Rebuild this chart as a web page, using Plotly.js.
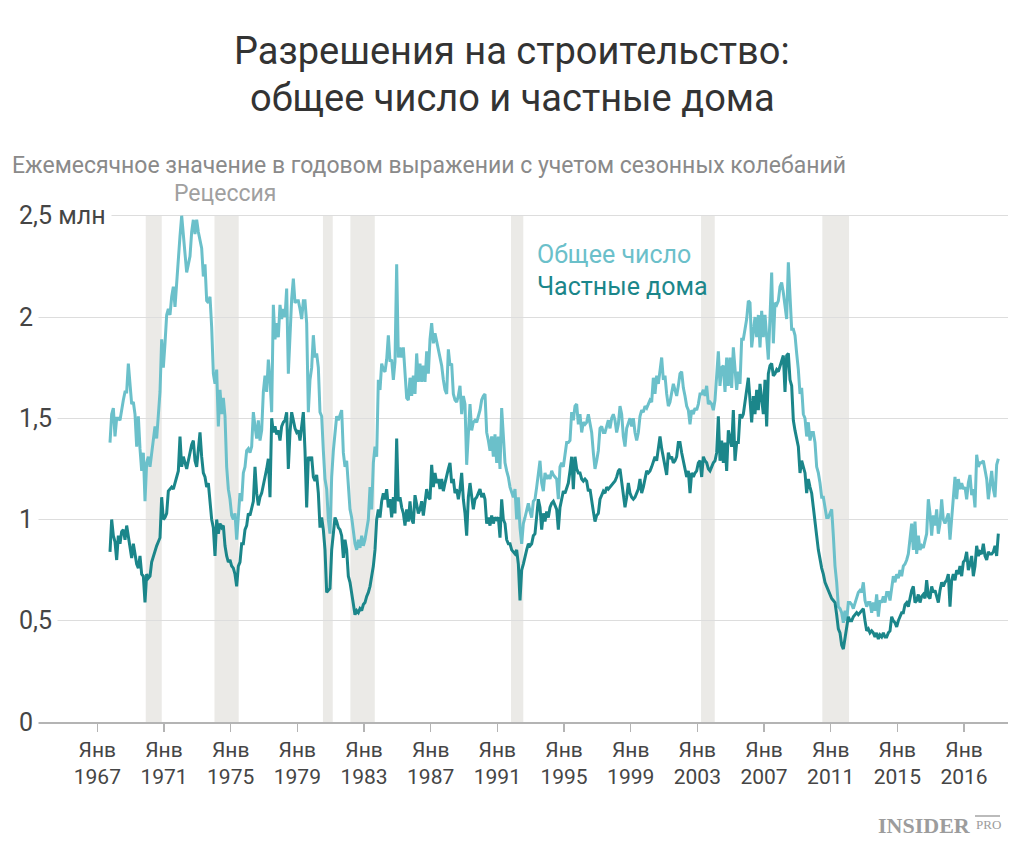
<!DOCTYPE html>
<html>
<head>
<meta charset="utf-8">
<script src="https://cdn.plot.ly/plotly-3.0.1.min.js"></script>
<style>html,body{margin:0;padding:0;background:#fff;}#chart{width:1024px;height:852px;}</style>
</head>
<body>
<div id="chart"></div>
<script>
// ---- Data, values in millions ----
// Samples are evenly spaced in time, starting at SAMPLE_START (decimal year), every SAMPLE_STEP years
const SAMPLE_START = 1967.924;
const SAMPLE_STEP = 0.09358;

const totalHomes = [
1.38,1.52,1.55,1.41,1.50,1.50,1.49,1.55,1.59,1.63,1.63,1.77,1.66,1.57,1.58,1.52,1.36,1.51,1.35,1.24,
1.33,1.09,1.28,1.31,1.26,1.32,1.40,1.46,1.40,1.52,1.63,1.89,1.75,1.87,2.01,2.04,2.01,2.10,2.15,2.05,
2.18,2.28,2.40,2.50,2.40,2.30,2.22,2.26,2.30,2.42,2.48,2.41,2.48,2.42,2.37,2.34,2.20,2.26,2.08,2.07,
2.10,1.95,1.72,1.67,1.74,1.46,1.64,1.52,1.60,1.51,1.26,1.15,1.10,1.02,1.00,1.03,0.90,1.03,1.13,1.09,
1.23,1.26,1.34,1.35,
1.33,1.36,1.53,1.46,1.40,1.49,1.39,1.44,1.63,1.71,1.63,1.79,1.69,1.53,2.06,1.89,1.97,1.90,2.06,1.99,
2.04,2.00,2.14,1.72,1.92,2.09,2.19,2.07,2.08,2.08,2.04,1.99,2.08,2.08,1.97,1.53,1.69,1.75,1.91,1.80,
1.82,1.75,1.53,1.51,1.34,1.20,1.15,1.00,0.93,1.21,1.34,1.44,1.51,1.49,1.52,1.54,1.33,1.26,1.29,1.16,
1.05,1.01,0.95,0.88,0.85,0.90,0.86,0.92,0.87,0.90,0.95,1.00,1.16,1.05,1.28,1.36,1.31,1.69,1.64,1.77,
1.74,1.73,1.79,1.91,
1.78,1.79,1.69,1.78,2.26,1.80,1.85,1.80,1.85,1.72,1.60,1.59,1.70,1.61,1.71,1.62,1.82,1.68,1.77,1.68,
1.76,1.68,1.83,1.72,1.89,1.97,1.87,1.92,1.88,1.84,1.80,1.76,1.69,1.64,1.62,1.84,1.76,1.77,1.62,1.59,
1.58,1.61,1.66,1.52,1.61,1.57,1.27,1.43,1.57,1.44,1.48,1.49,1.48,1.51,1.54,1.59,1.61,1.62,1.43,1.39,
1.34,1.41,1.31,1.42,1.28,1.41,1.25,1.55,1.38,1.28,1.24,1.21,1.16,1.13,1.11,1.15,1.00,1.11,0.96,0.88,
0.98,1.01,1.05,1.08,1.04,1.01,1.09,
1.10,1.16,1.24,1.29,1.18,1.14,1.23,1.20,1.22,1.20,1.24,1.22,1.21,1.20,1.10,1.26,1.28,1.26,1.32,1.38,
1.38,1.39,1.53,1.49,1.56,1.57,1.47,1.52,1.43,1.48,1.47,1.48,1.52,1.47,1.43,1.33,1.25,1.29,1.34,1.45,
1.46,1.43,1.43,1.46,1.49,1.45,1.50,1.52,1.49,1.43,1.47,1.56,1.52,1.41,1.36,1.45,1.48,1.50,1.46,1.50,
1.43,1.39,1.43,1.51,1.54,1.53,1.56,1.55,1.57,1.59,1.58,1.70,1.62,1.71,1.67,1.73,1.80,1.69,1.71,1.62,
1.56,1.58,1.62,1.67,1.64,1.61,1.66,
1.72,1.73,1.65,1.61,1.56,1.54,1.47,1.54,1.52,1.55,1.54,1.57,1.62,1.62,1.64,1.61,1.66,1.57,1.58,1.57,
1.54,1.59,1.69,1.83,1.66,1.75,1.76,1.63,1.80,1.66,1.80,1.65,1.85,1.72,1.64,1.73,1.67,1.89,1.89,1.94,
1.99,2.08,2.07,1.85,1.94,2.00,1.90,2.01,1.85,2.03,1.90,2.01,1.90,1.79,2.00,2.22,1.87,2.07,2.06,2.08,
2.15,2.17,2.12,2.05,1.99,2.27,2.07,1.94,1.94,1.91,1.82,1.74,1.62,1.65,1.52,1.50,1.41,1.48,1.39,1.43,
1.43,1.38,1.26,1.23,1.18,1.11,1.11,1.05,1.01,1.01,1.03,1.05,0.92,0.77,0.69,0.57,
0.56,0.54,0.49,0.55,0.50,0.59,0.59,0.58,0.56,0.59,0.62,0.64,0.65,0.64,0.69,0.60,0.57,0.59,0.59,0.54,
0.59,0.55,0.63,0.52,0.60,0.59,0.62,0.59,0.64,0.64,0.60,0.67,0.72,0.69,0.73,0.71,0.75,0.72,0.77,0.78,
0.80,0.83,0.92,0.98,0.85,0.99,0.83,0.92,0.85,0.87,0.86,0.90,0.93,1.10,1.03,0.92,1.02,0.97,1.05,0.93,
0.98,1.10,1.00,0.98,1.01,1.03,0.90,1.02,1.10,1.21,1.10,1.20,1.15,1.18,1.15,1.16,1.10,1.18,1.22,1.12,
1.15,1.06,1.32,1.26,1.28,1.28,1.29,1.25,1.20,1.10,1.16,1.24,1.15,1.11,1.27,1.30
];

const privateHomes = [
0.84,1.00,0.92,0.89,0.80,0.92,0.88,0.94,0.95,0.90,0.97,0.92,0.85,0.81,0.88,0.82,0.78,0.76,0.82,0.73,
0.72,0.59,0.73,0.71,0.72,0.79,0.82,0.84,0.87,0.89,0.91,1.11,1.00,1.01,1.03,1.14,1.15,1.16,1.15,1.18,
1.22,1.24,1.41,1.26,1.31,1.28,1.25,1.29,1.33,1.37,1.39,1.29,1.26,1.36,1.43,1.31,1.23,1.21,1.16,1.18,
1.10,1.00,0.96,0.82,1.00,0.93,0.98,0.96,0.97,0.87,0.82,0.79,0.80,0.77,0.76,0.73,0.67,0.77,0.79,0.88,
0.88,0.95,0.97,1.03,
1.02,1.06,1.09,1.26,1.13,1.07,1.11,1.13,1.18,1.21,1.25,1.30,1.11,1.50,1.43,1.46,1.42,1.44,1.39,1.46,
1.48,1.49,1.53,1.25,1.43,1.53,1.49,1.45,1.43,1.44,1.39,1.48,1.53,1.34,1.06,1.31,1.29,1.31,1.21,1.19,
1.22,1.13,0.96,1.01,0.95,0.85,0.64,0.65,0.66,0.85,0.93,1.01,0.99,0.96,0.95,0.92,0.81,0.90,0.85,0.72,
0.69,0.63,0.57,0.53,0.55,0.54,0.56,0.55,0.58,0.59,0.62,0.64,0.67,0.72,0.77,0.85,1.00,1.05,1.01,1.09,
1.13,1.10,1.15,1.06,
1.10,1.01,1.11,1.03,1.40,1.09,1.11,1.06,1.03,0.97,1.05,0.99,1.09,1.00,0.98,1.12,1.08,1.03,1.05,1.09,
1.02,1.08,1.15,1.11,1.10,1.27,1.16,1.23,1.18,1.20,1.15,1.20,1.14,1.18,1.22,1.25,1.28,1.18,1.20,1.13,
1.15,1.10,1.15,1.23,1.10,1.03,0.92,1.11,1.18,1.11,1.05,1.10,1.11,1.13,1.15,1.11,1.13,1.10,0.98,1.01,
0.97,1.02,0.98,1.01,1.00,1.01,0.91,1.10,1.00,0.98,0.90,0.88,0.88,0.85,0.84,0.83,0.85,0.78,0.60,0.75,
0.78,0.82,0.85,0.88,0.87,0.88,0.92,
0.93,1.00,1.10,1.06,0.95,1.03,0.99,1.04,1.01,1.06,1.08,1.09,1.07,1.05,0.95,1.06,1.10,1.14,1.13,1.16,
1.18,1.24,1.31,1.15,1.31,1.25,1.23,1.23,1.20,1.19,1.20,1.19,1.14,1.15,1.08,1.04,0.99,1.02,1.03,1.10,
1.12,1.14,1.13,1.16,1.15,1.16,1.17,1.18,1.19,1.21,1.24,1.25,1.18,1.13,1.06,1.11,1.18,1.13,1.11,1.10,
1.11,1.13,1.15,1.20,1.13,1.16,1.21,1.24,1.23,1.24,1.26,1.29,1.31,1.29,1.36,1.41,1.35,1.31,1.26,1.22,
1.33,1.30,1.31,1.28,1.29,1.31,1.38,
1.38,1.33,1.29,1.26,1.21,1.24,1.13,1.23,1.21,1.23,1.24,1.28,1.29,1.21,1.31,1.29,1.28,1.25,1.24,1.26,
1.28,1.29,1.33,1.51,1.29,1.39,1.28,1.38,1.24,1.44,1.39,1.36,1.54,1.29,1.38,1.38,1.52,1.50,1.52,1.57,
1.64,1.70,1.59,1.48,1.61,1.52,1.64,1.54,1.67,1.59,1.52,1.69,1.46,1.72,1.76,1.77,1.71,1.72,1.74,1.73,
1.76,1.79,1.81,1.63,1.81,1.82,1.69,1.66,1.49,1.44,1.39,1.36,1.23,1.29,1.26,1.23,1.13,1.20,1.16,1.13,
1.06,0.97,0.92,0.85,0.80,0.76,0.73,0.69,0.67,0.65,0.63,0.61,0.60,0.59,0.53,0.46,
0.44,0.38,0.36,0.41,0.47,0.52,0.50,0.50,0.52,0.53,0.54,0.53,0.54,0.55,0.56,0.50,0.45,0.46,0.44,0.45,
0.44,0.42,0.44,0.41,0.43,0.42,0.44,0.42,0.42,0.44,0.45,0.52,0.50,0.49,0.47,0.50,0.52,0.54,0.54,0.58,
0.59,0.57,0.61,0.65,0.67,0.59,0.60,0.63,0.59,0.62,0.63,0.61,0.70,0.62,0.61,0.67,0.64,0.65,0.62,0.59,
0.65,0.69,0.67,0.69,0.70,0.73,0.57,0.70,0.73,0.70,0.75,0.73,0.77,0.72,0.79,0.80,0.84,0.75,0.78,0.82,
0.72,0.77,0.87,0.82,0.84,0.83,0.88,0.82,0.80,0.84,0.83,0.83,0.84,0.87,0.82,0.93
];

// Recession periods (decimal years)
const recessionStart = [1969.93, 1973.79, 1979.88, 1981.42, 1990.44, 2001.11, 2007.92];
const recessionEnd   = [1970.83, 1975.15, 1980.43, 1982.79, 1991.13, 2001.88, 2009.42];

// Axis labels
const tickYears = ['1967','1971','1975','1979','1983','1987','1991','1995','1999','2003','2007','2011','2015','2016'];
const yTickValues = [0, 0.5, 1, 1.5, 2, 2.5];
const yTickLabels = ['0', '0,5', '1', '1,5', '2', '2,5 млн'];

const seriesNames = ['Общее число', 'Частные дома'];
const titleLines = ['Разрешения на строительство:', 'общее число и частные дома'];

// ---- Layout helpers (pixel geometry of the reference) ----
const W = 1024, H = 852;
const PL = 18, PR = 1008, PT = 200, PB = 722;
const px = x => (x - PL) / (PR - PL);
const py = y => (PB - y) / (PB - PT);
const PXPERYEAR = 17.81;
const yearAt = x => 1969.917 + (x - 145.5) / PXPERYEAR;

const times = totalHomes.map((_, i) => SAMPLE_START + i * SAMPLE_STEP);

const FONT = 'Roboto, sans-serif';
const LIGHT = '#6bc0ca';
const DARK = '#1b868a';

const traces = [
  {x: times, y: totalHomes, type: 'scatter', mode: 'lines', name: seriesNames[0],
   line: {color: LIGHT, width: 3, shape: 'linear'}, hoverinfo: 'skip'},
  {x: times.slice(0, privateHomes.length), y: privateHomes, type: 'scatter', mode: 'lines', name: seriesNames[1],
   line: {color: DARK, width: 3, shape: 'linear'}, hoverinfo: 'skip'}
];

const shapes = recessionStart.map((s, i) => ({
  type: 'rect', xref: 'x', yref: 'y', x0: s, x1: recessionEnd[i], y0: 0, y1: 2.5,
  fillcolor: '#ebeae7', line: {width: 0}, layer: 'below'
}));

// INSIDER PRO logo rule above "PRO"
shapes.push({type: 'line', xref: 'paper', yref: 'paper', x0: px(975), x1: px(1000), y0: py(816), y1: py(816),
  line: {color: '#a5a5a5', width: 1.5}});

const annotations = [];
yTickValues.forEach((v, i) => {
  annotations.push({xref: 'paper', yref: 'y', x: 0, y: v, xanchor: 'left', yanchor: 'middle',
    xshift: -5, text: yTickLabels[i], showarrow: false, bgcolor: '#ffffff', borderpad: 5,
    font: {family: FONT, size: 25, color: '#454545'}});
});
annotations.push({xref: 'paper', yref: 'paper', x: 0.5 + (512 - 513) / 990, y: py(51), xanchor: 'center', yanchor: 'middle',
  text: titleLines[0], showarrow: false, font: {family: FONT, size: 38, color: '#333333'}});
annotations.push({xref: 'paper', yref: 'paper', x: 0.5 + (512 - 513) / 990, y: py(98), xanchor: 'center', yanchor: 'middle',
  text: titleLines[1], showarrow: false, font: {family: FONT, size: 38, color: '#333333'}});
annotations.push({xref: 'paper', yref: 'paper', x: px(10), y: py(165), xanchor: 'left', yanchor: 'middle',
  text: 'Ежемесячное значение в годовом выражении с учетом сезонных колебаний', showarrow: false,
  font: {family: FONT, size: 23, color: '#8a8a8a'}});
annotations.push({xref: 'paper', yref: 'paper', x: px(172), y: py(194), xanchor: 'left', yanchor: 'middle',
  text: 'Рецессия', showarrow: false, font: {family: FONT, size: 23, color: '#a0a0a0'}});
annotations.push({xref: 'paper', yref: 'paper', x: px(535), y: py(254), xanchor: 'left', yanchor: 'middle',
  text: seriesNames[0], showarrow: false, font: {family: FONT, size: 25, color: LIGHT}});
annotations.push({xref: 'paper', yref: 'paper', x: px(535), y: py(286), xanchor: 'left', yanchor: 'middle',
  text: seriesNames[1], showarrow: false, font: {family: FONT, size: 25, color: DARK}});
annotations.push({xref: 'paper', yref: 'paper', x: px(973), y: py(825), xanchor: 'right', yanchor: 'middle',
  text: '<b>INSIDER</b>', showarrow: false, font: {family: 'Liberation Serif, serif', size: 22, color: '#9c9c9c'}});
annotations.push({xref: 'paper', yref: 'paper', x: px(988), y: py(824), xanchor: 'center', yanchor: 'middle',
  text: 'PRO', showarrow: false, font: {family: 'Liberation Serif, serif', size: 13, color: '#9c9c9c'}});

const tickvals = tickYears.map((_, k) => yearAt(97.33 + k * 66.67));
const ticktext = tickYears.map(y => 'Янв<br>' + y);

const layout = {
  width: W, height: H,
  margin: {l: PL, r: W - PR, t: PT, b: H - PB, pad: 0},
  paper_bgcolor: '#ffffff', plot_bgcolor: '#ffffff',
  showlegend: false,
  xaxis: {range: [yearAt(PL), yearAt(PR)], showgrid: false, zeroline: false,
    showline: true, linecolor: '#b4b4b4', linewidth: 1.5,
    ticks: 'outside', ticklen: 8, tickwidth: 1.5, tickcolor: '#b4b4b4',
    tickvals: tickvals, ticktext: ticktext,
    tickfont: {family: FONT, size: 21, color: '#454545'}, fixedrange: true},
  yaxis: {range: [0, (PB - PT) / 202.5], tickvals: [0.5, 1, 1.5, 2, 2.5], showticklabels: false,
    showgrid: true, gridcolor: '#dddddd', gridwidth: 1, zeroline: false, showline: false, fixedrange: true},
  shapes: shapes,
  annotations: annotations
};

Plotly.newPlot('chart', traces, layout, {displayModeBar: false, staticPlot: true});
</script>
</body>
</html>
